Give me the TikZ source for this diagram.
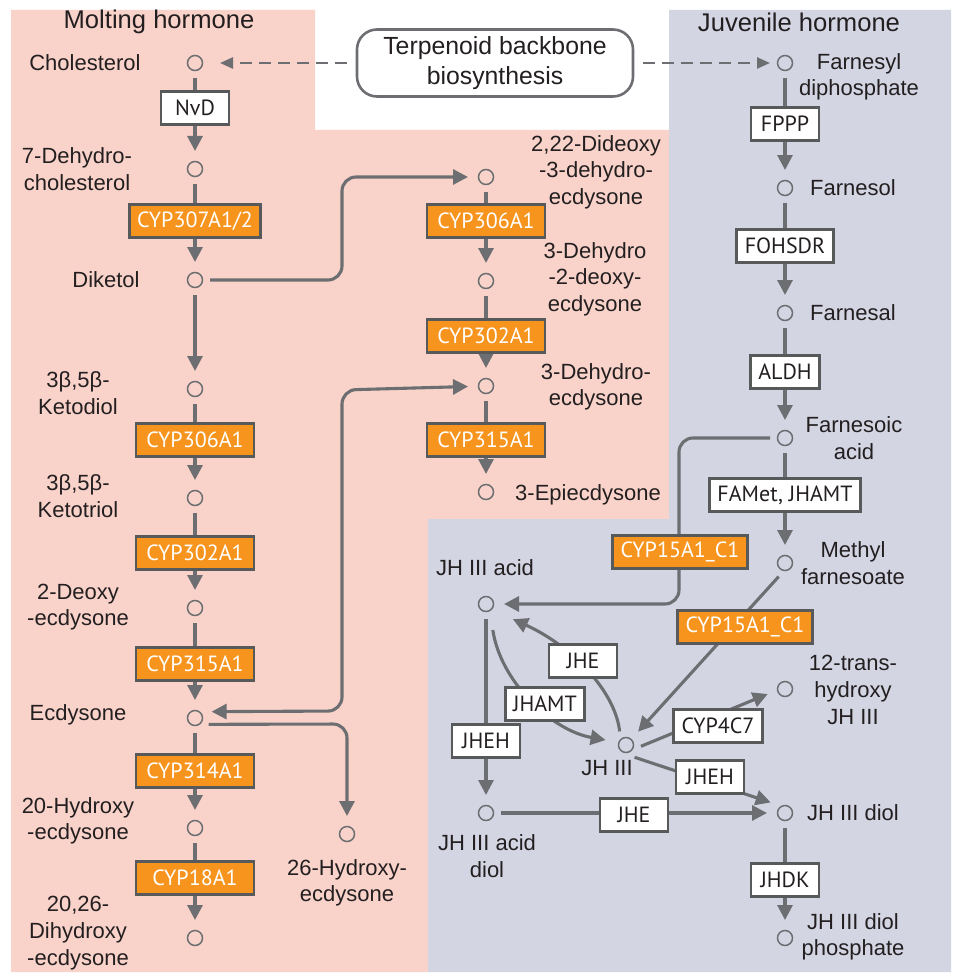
\documentclass[tikz,border=0pt]{standalone}
\usepackage{fontspec}
\setmainfont{Liberation Sans}
\newfontfamily\boxfont{PT Sans}
\usetikzlibrary{arrows.meta}
\definecolor{pinkbg}{HTML}{F9D3CA}
\definecolor{lavbg}{HTML}{D3D5E3}
\definecolor{enzor}{HTML}{F7941D}
\definecolor{lncol}{HTML}{6D6E71}
\definecolor{bdcol}{HTML}{58595B}
\definecolor{txcol}{HTML}{231F20}
\begin{document}
\begin{tikzpicture}[x=0.5pt,y=-0.5pt,
met/.style={circle,draw=lncol,line width=0.75pt,minimum size=7.5pt,inner sep=0pt,outer sep=3.75pt},
lbl/.style={align=center,text=txcol,font=\fontsize{11}{13.3}\selectfont},
ttl/.style={text=txcol,font=\fontsize{12.8}{15}\selectfont},
enz/.style={draw=bdcol,line width=1.4pt,fill=white,text=txcol,minimum height=16.5pt,minimum width=34pt,inner xsep=4pt,inner ysep=0pt,font=\boxfont\fontsize{11}{13}\selectfont},
cyp/.style={enz,fill=enzor,text=white,minimum width=59pt},
ar/.style={draw=lncol,line width=1.55pt,-{Triangle[length=7.5pt,width=7.5pt]},shorten >=1.5pt},
ar2/.style={draw=lncol,line width=1.55pt,{Triangle[length=7.5pt,width=7.5pt]}-{Triangle[length=7.5pt,width=7.5pt]},shorten >=1.5pt,shorten <=1.5pt},
dar/.style={draw=lncol,line width=1.2pt,dash pattern=on 6pt off 3.5pt,-{Triangle[length=6.5pt,width=5.5pt]}}]
\useasboundingbox (0,0) rectangle (954,974);
\fill[pinkbg](11,10)--(315,10)--(315,130)--(669,130)--(669,519)--(428,519)--(428,972)--(11,972)--cycle;
\fill[lavbg](669,10)--(951,10)--(951,972)--(428,972)--(428,519)--(669,519)--cycle;
\node[ttl](P) at (159,22){Molting hormone};
\node[ttl](Q) at (799,22){Juvenile hormone};
\node[draw=lncol,line width=1.3pt,rounded corners=10pt,minimum width=138pt,minimum height=33.5pt,align=center,text=txcol,font=\fontsize{12.4}{15}\selectfont](T) at (495,63){Terpenoid backbone\\biosynthesis};
\node[met](M1) at (195,63){};
\node[met](M2) at (195,169){};
\node[met](M3) at (195,280){};
\node[met](M4) at (195,389){};
\node[met](M5) at (195,498){};
\node[met](M6) at (195,608){};
\node[met](M7) at (195,718){};
\node[met](M8) at (195,828){};
\node[met](M9) at (195,938){};
\node[met](M10) at (347,834){};
\node[met](D1) at (486,177){};
\node[met](D2) at (486,281){};
\node[met](D3) at (486,386){};
\node[met](D4) at (486,492){};
\node[met](J1) at (785,63){};
\node[met](J2) at (785,188){};
\node[met](J3) at (785,313){};
\node[met](J4) at (785,438){};
\node[met](J5) at (785,563){};
\node[met](J6) at (785,689){};
\node[met](J7) at (785,813){};
\node[met](J8) at (785,938){};
\node[met](H1) at (486,604){};
\node[met](H2) at (626,745){};
\node[met](H3) at (486,813){};
\node[lbl](tM1) at (85,63){Cholesterol};
\node[lbl](tM2) at (77,169){7-Dehydro-\\cholesterol};
\node[lbl](tM3) at (106,280){Diketol};
\node[lbl](tM4) at (78,393){3β,5β-\\Ketodiol};
\node[lbl](tM5) at (78,496){3β,5β-\\Ketotriol};
\node[lbl](tM6) at (78,607){2-Deoxy\\-ecdysone};
\node[lbl](tM7) at (78,715){Ecdysone};
\node[lbl](tM8) at (78,821){20-Hydroxy\\-ecdysone};
\node[lbl](tM9) at (78,933){20,26-\\Dihydroxy\\-ecdysone};
\node[lbl](tM10) at (347,883){26-Hydroxy-\\ecdysone};
\node[lbl](tD1) at (596,172){2,22-Dideoxy\\-3-dehydro-\\ecdysone};
\node[lbl](tD2) at (595,279){3-Dehydro\\-2-deoxy-\\ecdysone};
\node[lbl](tD3) at (596,387){3-Dehydro-\\ecdysone};
\node[lbl](tD4) at (588,495){3-Epiecdysone};
\node[lbl](tJ1) at (859,77){Farnesyl\\diphosphate};
\node[lbl](tJ2) at (853,188){Farnesol};
\node[lbl](tJ3) at (853,313){Farnesal};
\node[lbl](tJ4) at (854,438){Farnesoic\\acid};
\node[lbl](tJ5) at (853,563){Methyl\\farnesoate};
\node[lbl](tJ6) at (853,690){12-trans-\\hydroxy\\JH III};
\node[lbl](tJ7) at (853,813){JH III diol};
\node[lbl](tJ8) at (853,937){JH III diol\\phosphate};
\node[lbl](tH1) at (485,568){JH III acid};
\node[lbl](tH2) at (607,768){JH III};
\node[lbl](tH3) at (487,856){JH III acid\\diol};
\draw[dar,shorten <=4.5pt,shorten >=5pt](T)--(M1);\draw[dar,shorten <=4.5pt](T)--(J1);
\draw[ar](M1)--(M2);\draw[ar](M2)--(M3);\draw[ar](M3)--(M4);\draw[ar](M4)--(M5);
\draw[ar](M5)--(M6);\draw[ar](M6)--(M7);\draw[ar](M7)--(M8);\draw[ar](M8)--(M9);
\draw[ar](D1)--(D2);\draw[ar](D2)--(D3);\draw[ar](D3)--(D4);
\draw[ar](J1)--(J2);\draw[ar](J2)--(J3);\draw[ar](J3)--(J4);\draw[ar](J4)--(J5);\draw[ar](J7)--(J8);
\draw[ar,rounded corners=7pt](M3)--(342,280)--(342,177)--(D1);
\draw[ar2,rounded corners=7pt](M7.25)--(342,711)--(342,390)--(D3);
\draw[ar,rounded corners=7pt](M7.-25)--(347,724)--(M10);
\draw[ar,rounded corners=7pt](J4)--(679,438)--(679,604)--(H1);
\draw[ar](J5.-115)--(H2);
\draw[ar](H2.-5)--(J6.-165);
\draw[ar](H2.-55)--(J7.140);
\draw[ar](H1)--(H3);\draw[ar](H3)--(J7);
\draw[ar,shorten >=8pt](H2.115)..controls(615,690)and(570,645)..(H1.-35);
\draw[ar,shorten <=6pt,shorten >=3pt](H1.-70)..controls(500,680)and(550,730)..(H2.165);
\node[enz](E1) at (195,108){NvD};
\node[cyp](E2) at (195,221){CYP307A1/2};
\node[cyp](E3) at (195,440){CYP306A1};
\node[cyp](E4) at (195,553){CYP302A1};
\node[cyp](E5) at (195,664){CYP315A1};
\node[cyp](E6) at (195,771){CYP314A1};
\node[cyp](E7) at (195,878){CYP18A1};
\node[cyp](E8) at (486,221){CYP306A1};
\node[cyp](E9) at (486,336){CYP302A1};
\node[cyp](E10) at (486,440){CYP315A1};
\node[enz](E11) at (785,124){FPPP};
\node[enz](E12) at (785,246){FOHSDR};
\node[enz](E13) at (785,372){ALDH};
\node[enz](E14) at (785,495){FAMet, JHAMT};
\node[cyp](E15) at (680,552){CYP15A1\_C1};
\node[cyp](E16) at (745,627){CYP15A1\_C1};
\node[enz](E17) at (583,661){JHE};
\node[enz](E18) at (545,704){JHAMT};
\node[enz](E19) at (486,741){JHEH};
\node[enz](E20) at (718,726){CYP4C7};
\node[enz](E21) at (710,777){JHEH};
\node[enz](E22) at (634,815){JHE};
\node[enz](E23) at (785,880){JHDK};
\end{tikzpicture}
\end{document}
